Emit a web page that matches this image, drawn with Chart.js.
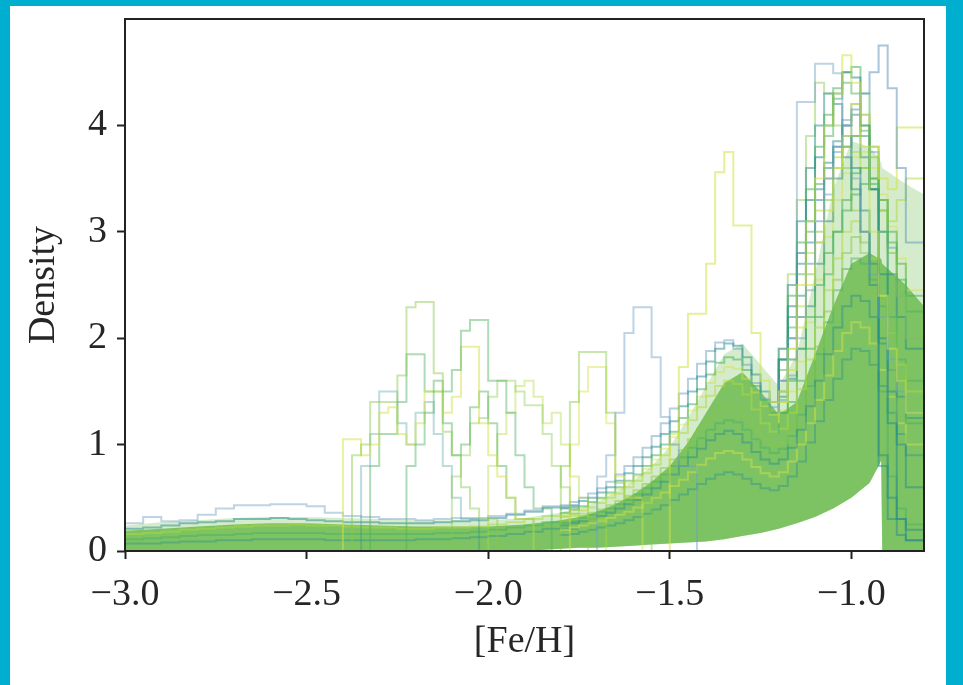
<!DOCTYPE html>
<html>
<head>
<meta charset="utf-8">
<script src="https://cdn.jsdelivr.net/npm/chart.js@4.4.1/dist/chart.umd.min.js"></script>
<style>
  html, body { margin: 0; padding: 0; }
  body { width: 963px; height: 685px; background: #00aed0; position: relative; overflow: hidden; }
  #panel { position: absolute; left: 10px; top: 6px; width: 936px; height: 679px; background: #fff; }
  #mdf { display: block; }
</style>
</head>
<body>
<div id="panel"><canvas id="mdf" width="936" height="679"></canvas></div>
<script>
// metallicity distribution functions, one step histogram per system
const X_MIN = -3.0;
const X_MAX = -0.8;
const Y_MAX = 5;
const BIN = 0.025;
const WIDE_BIN = 0.05;
const xTicks = [-3.0, -2.5, -2.0, -1.5, -1.0];
const yTicks = [0, 1, 2, 3, 4];

// envelope of the dense bundle of histograms
const envX = [-3.0, -2.9, -2.8, -2.7, -2.6, -2.5, -2.4, -2.3, -2.2, -2.1, -2.0, -1.9, -1.8, -1.75, -1.7, -1.65, -1.6, -1.55,
  -1.5, -1.45, -1.4, -1.35, -1.3, -1.25, -1.2, -1.15, -1.1, -1.05, -1.0, -0.95, -0.925, -0.918, -0.915, -0.85, -0.8];
const outerHigh = [0.24, 0.27, 0.29, 0.31, 0.32, 0.32, 0.31, 0.30, 0.29, 0.29, 0.29, 0.31, 0.36, 0.40, 0.46, 0.55, 0.66, 0.80,
  0.98, 1.25, 1.55, 1.85, 1.95, 1.75, 1.55, 1.85, 2.60, 3.40, 3.85, 3.80, 3.70, 3.65, 3.60, 3.45, 3.35];
const coreHigh = [0.19, 0.21, 0.23, 0.25, 0.26, 0.26, 0.25, 0.24, 0.23, 0.23, 0.23, 0.25, 0.29, 0.32, 0.37, 0.44, 0.53, 0.65,
  0.80, 1.02, 1.30, 1.58, 1.68, 1.50, 1.28, 1.40, 1.85, 2.30, 2.70, 2.80, 2.75, 2.75, 2.70, 2.50, 2.30];
const coreLow = [0, 0, 0, 0, 0, 0, 0, 0, 0, 0, 0, 0, 0.02, 0.03, 0.03, 0.04, 0.05, 0.06,
  0.07, 0.08, 0.09, 0.11, 0.14, 0.17, 0.21, 0.26, 0.32, 0.40, 0.50, 0.64, 0.80, 0.85, 0, 0, 0];

// low-metallicity tails, 0.05 dex bins from -3.0
const tail1 = [0.25, 0.26, 0.32, 0.28, 0.29, 0.34, 0.40, 0.43, 0.43, 0.44, 0.44, 0.42, 0.36, 0.33, 0.32, 0.30, 0.30, 0.29, 0.30, 0.31, 0.31, 0.33, 0.35, 0.38, 0.42];
const tail2 = [0.20, 0.21, 0.22, 0.24, 0.26, 0.27, 0.28, 0.30, 0.30, 0.31, 0.30, 0.29, 0.28, 0.27, 0.27, 0.26, 0.26, 0.26, 0.27, 0.28, 0.29, 0.31, 0.34, 0.37, 0.41];
const tail3 = [0.15, 0.16, 0.17, 0.18, 0.20, 0.21, 0.22, 0.23, 0.24, 0.24, 0.25, 0.24, 0.24, 0.23, 0.22, 0.22, 0.21, 0.21, 0.22, 0.22, 0.23, 0.25, 0.27, 0.30, 0.33];
const tail4 = [0.10, 0.11, 0.12, 0.13, 0.14, 0.15, 0.15, 0.16, 0.17, 0.17, 0.17, 0.17, 0.16, 0.16, 0.16, 0.16, 0.16, 0.16, 0.17, 0.17, 0.18, 0.20, 0.22, 0.24, 0.27];
const tail5 = [0.06, 0.07, 0.07, 0.08, 0.09, 0.09, 0.10, 0.10, 0.11, 0.11, 0.11, 0.11, 0.10, 0.10, 0.10, 0.10, 0.10, 0.11, 0.11, 0.12, 0.13, 0.14, 0.16, 0.18, 0.21];

// bulk histograms from -1.8 to -0.8
const bulk1 = [0.38, 0.40, 0.43, 0.47, 0.50, 0.55, 0.60, 0.66, 0.73, 0.80, 0.88, 0.98, 1.10, 1.22, 1.36, 1.50, 1.64, 1.78, 1.90, 1.95,
  1.93, 1.82, 1.66, 1.50, 1.40, 1.45, 1.62, 1.90, 2.30, 2.70, 3.10, 3.50, 3.80, 3.90, 3.70, 3.40, 3.00, 2.60, 2.20, 1.90];
const bulk2 = [0.30, 0.32, 0.35, 0.38, 0.41, 0.45, 0.50, 0.54, 0.60, 0.66, 0.73, 0.81, 0.90, 1.00, 1.11, 1.23, 1.35, 1.46, 1.55, 1.60,
  1.57, 1.47, 1.33, 1.20, 1.12, 1.15, 1.30, 1.52, 1.80, 2.10, 2.45, 2.75, 3.00, 3.10, 3.00, 2.75, 2.40, 2.05, 1.75, 1.50];
const bulk3 = [0.22, 0.24, 0.26, 0.28, 0.30, 0.33, 0.36, 0.40, 0.44, 0.48, 0.53, 0.59, 0.65, 0.72, 0.80, 0.88, 0.96, 1.04, 1.10, 1.13,
  1.10, 1.02, 0.93, 0.86, 0.82, 0.86, 0.97, 1.14, 1.36, 1.60, 1.85, 2.10, 2.30, 2.40, 2.35, 2.20, 1.95, 1.70, 1.45, 1.25];
const bulk4 = [0.34, 0.36, 0.39, 0.42, 0.46, 0.50, 0.55, 0.60, 0.66, 0.72, 0.80, 0.90, 1.00, 1.12, 1.25, 1.38, 1.52, 1.66, 1.77, 1.82,
  1.80, 1.70, 1.55, 1.42, 1.30, 1.30, 1.40, 1.60, 1.90, 2.20, 2.60, 3.00, 3.30, 3.55, 3.60, 3.45, 3.20, 2.90, 2.55, 2.25];
const bulk5 = [0.18, 0.20, 0.22, 0.24, 0.26, 0.28, 0.31, 0.34, 0.37, 0.41, 0.45, 0.50, 0.55, 0.61, 0.67, 0.74, 0.81, 0.87, 0.92, 0.94,
  0.92, 0.86, 0.79, 0.73, 0.70, 0.74, 0.84, 1.00, 1.20, 1.42, 1.65, 1.88, 2.05, 2.15, 2.10, 1.95, 1.70, 1.45, 1.20, 1.00];
const bulk6 = [0.40, 0.43, 0.46, 0.50, 0.54, 0.59, 0.65, 0.72, 0.80, 0.88, 0.97, 1.08, 1.20, 1.34, 1.48, 1.62, 1.76, 1.88, 1.96, 1.98,
  1.90, 1.75, 1.58, 1.43, 1.35, 1.42, 1.65, 2.00, 2.45, 2.90, 3.35, 3.75, 4.05, 4.20, 4.10, 3.75, 3.30, 2.85, 2.40, 2.00];
const bulk7 = [0.26, 0.28, 0.30, 0.33, 0.36, 0.39, 0.43, 0.47, 0.52, 0.57, 0.63, 0.70, 0.78, 0.86, 0.95, 1.05, 1.15, 1.25, 1.32, 1.36,
  1.34, 1.26, 1.15, 1.05, 0.98, 1.02, 1.15, 1.35, 1.62, 1.92, 2.25, 2.55, 2.80, 2.95, 2.90, 2.70, 2.35, 2.00, 1.65, 1.40];
const bulk8 = [0.14, 0.15, 0.16, 0.18, 0.20, 0.22, 0.24, 0.26, 0.29, 0.32, 0.35, 0.39, 0.43, 0.48, 0.53, 0.58, 0.63, 0.68, 0.72, 0.74,
  0.72, 0.68, 0.63, 0.59, 0.57, 0.61, 0.70, 0.84, 1.02, 1.22, 1.42, 1.62, 1.80, 1.90, 1.88, 1.75, 1.55, 1.30, 1.10, 0.90];
const bulk9 = [0.33, 0.35, 0.38, 0.41, 0.45, 0.49, 0.53, 0.58, 0.64, 0.70, 0.77, 0.86, 0.96, 1.07, 1.19, 1.32, 1.45, 1.58, 1.68, 1.73,
  1.71, 1.62, 1.49, 1.36, 1.28, 1.32, 1.50, 1.78, 2.15, 2.55, 2.95, 3.30, 3.55, 3.70, 3.75, 3.60, 3.35, 3.05, 2.75, 2.45];
const bulk10 = [0.24, 0.26, 0.28, 0.31, 0.34, 0.37, 0.40, 0.44, 0.48, 0.53, 0.59, 0.65, 0.72, 0.80, 0.88, 0.97, 1.06, 1.14, 1.20, 1.23,
  1.21, 1.14, 1.05, 0.97, 0.92, 0.96, 1.08, 1.28, 1.55, 1.85, 2.15, 2.45, 2.65, 2.75, 2.70, 2.55, 2.30, 2.05, 1.80, 1.60];

// metal-rich peak histograms from -1.2 to -0.8
const peak1 = [1.40, 1.60, 2.00, 4.22, 4.22, 4.58, 4.58, 4.49, 4.00, 3.50, 3.00, 2.60, 2.20, 1.80, 1.50, 1.30];
const peak2 = [1.30, 1.50, 1.80, 2.20, 2.70, 3.10, 3.50, 3.80, 4.00, 4.15, 4.30, 4.50, 4.75, 4.35, 3.60, 2.90];
const peak3 = [1.40, 1.80, 2.30, 2.80, 3.30, 3.70, 4.00, 4.30, 4.50, 4.45, 4.00, 3.40, 2.60, 1.20, 0.30, 0.10];
const peak4 = [1.20, 1.40, 1.70, 2.10, 2.50, 2.90, 3.20, 3.60, 3.90, 4.20, 4.10, 3.80, 3.50, 3.40, 3.98, 3.98];
const peak5 = [1.40, 1.80, 2.40, 2.90, 3.40, 3.80, 4.10, 4.35, 4.50, 4.55, 4.30, 3.80, 3.00, 2.20, 1.60, 1.20];
const peak6 = [1.40, 1.90, 2.50, 3.10, 3.60, 4.00, 4.30, 4.20, 3.90, 3.60, 3.20, 2.70, 0.80, 0.30, 0.15, 0.10];
const peak7 = [1.20, 1.40, 1.80, 2.20, 2.60, 3.00, 3.30, 3.60, 3.80, 3.90, 4.00, 3.70, 3.30, 2.80, 2.40, 2.00];
const peak8 = [1.40, 1.80, 2.20, 2.70, 3.10, 3.40, 3.65, 3.80, 3.70, 3.40, 3.00, 2.50, 2.00, 1.50, 1.00, 0.60];
const peak9 = [1.10, 1.30, 1.60, 1.90, 2.20, 2.50, 2.80, 3.00, 3.20, 3.35, 3.45, 3.50, 3.30, 3.00, 2.70, 2.40];
const peak10 = [1.30, 1.60, 2.00, 2.40, 2.90, 3.30, 3.60, 3.85, 4.00, 4.10, 3.90, 3.40, 0.90, 0.50, 0.30, 0.20];
const peak11 = [1.40, 1.90, 2.60, 3.30, 3.90, 4.40, 4.30, 4.00, 3.60, 3.20, 2.80, 2.40, 2.00, 1.70, 1.40, 1.20];
const peak12 = [1.30, 1.50, 1.90, 2.30, 2.80, 3.20, 3.50, 3.70, 3.80, 3.75, 3.60, 3.40, 3.20, 3.10, 3.30, 3.50];
const peak13 = [1.35, 1.70, 2.10, 2.60, 3.00, 3.45, 3.90, 4.25, 4.40, 4.30, 3.95, 3.50, 1.50, 0.70, 0.40, 0.25];

// narrow, metal-poor systems (start edge + counts)
const poorA = { start: -2.375, vals: [0.6, 0.9, 1.0, 1.4, 1.4, 1.4, 1.65, 2.29, 2.34, 2.34, 1.67, 1.12, 0.9, 0.6, 0.4, 0.3] };
const poorB = { start: -2.225, vals: [0.5, 0.8, 1.0, 1.3, 1.6, 1.5, 1.7, 2.07, 2.17, 2.17, 1.6, 1.6, 1.3, 0.9, 0.6, 0.4] };
const poorC = { start: -2.4, vals: [0.75, 1.05, 1.05, 0.9, 1.0, 1.3, 1.35, 1.1, 1.0, 1.2, 1.5, 1.5, 1.3, 1.45, 1.92, 1.92, 1.2, 0.9, 0.7, 0.5, 0.3] };
const poorD = { start: -2.325, vals: [0.4, 0.8, 1.1, 1.1, 1.4, 1.85, 1.85, 1.5, 1.5, 1.2, 0.9, 1.0, 1.35, 1.5, 1.2, 0.8, 0.5, 0.3] };
const poorE = { start: -2.1, vals: [0.4, 0.7, 0.9, 1.2, 1.25, 1.45, 1.6, 1.6, 1.5, 1.37, 1.37, 1.1, 0.8, 0.6, 0.35] };
const poorF = { start: -2.35, vals: [0.5, 0.8, 1.1, 1.5, 1.5, 1.2, 1.0, 1.3, 1.4, 1.1, 0.8, 0.5, 0.3] };
const poorG = { start: -2.0, vals: [0.5, 0.8, 1.1, 1.3, 1.55, 1.6, 1.45, 1.2, 1.3, 1.0, 0.7, 0.5, 0.3] };
const midA = { start: -1.8, vals: [0.45, 0.8, 1.4, 1.87, 1.87, 1.87, 1.3, 0.64, 0.5, 0.45] };
const midB = { start: -1.775, vals: [0.6, 1.0, 1.5, 1.73, 1.73, 1.2, 0.7, 0.5] };
const midC = { start: -1.7, vals: [0.5, 0.7, 0.9, 1.3, 2.05, 2.29, 2.29, 1.82, 1.26, 1.0, 0.8] };
const midD = { start: -1.5, vals: [0.9, 1.1, 1.73, 2.23, 2.23, 2.7, 3.56, 3.75, 3.06, 3.06, 2.05, 1.6, 1.4, 1.5, 1.9, 2.5,
  3.1, 3.5, 4.0, 4.3, 4.66, 4.4, 3.8, 3.0, 2.4, 1.9, 1.6, 1.3] };

const TEAL = 'rgba(38,140,140,';
const BLUE = 'rgba(110,160,195,';
const GREEN = 'rgba(75,178,95,';
const LIME = 'rgba(135,200,70,';
const YGREEN = 'rgba(175,218,55,';
const YELLOW = 'rgba(212,226,70,';

function stepPoints(start, width, vals, closed) {
  var pts = [];
  if (closed) pts.push({ x: start, y: 0 });
  vals.forEach(function (v, i) { pts.push({ x: start + i * width, y: v }); });
  var end = start + vals.length * width;
  pts.push({ x: end, y: vals[vals.length - 1] });
  if (closed) pts.push({ x: end, y: 0 });
  return pts;
}

function histLine(pts, color, alpha, order) {
  return {
    data: pts,
    borderColor: color + alpha + ')',
    borderWidth: 2,
    stepped: 'after',
    pointRadius: 0,
    fill: false,
    order: order
  };
}

function envelope(vals, fillColor, target, order) {
  return {
    data: envX.map(function (x, i) { return { x: x, y: vals[i] }; }),
    borderColor: 'rgba(0,0,0,0)',
    borderWidth: 0,
    pointRadius: 0,
    tension: 0,
    backgroundColor: fillColor,
    fill: target === null ? false : { target: target },
    order: order
  };
}

var datasets = [
  envelope(outerHigh, 'rgba(122,196,94,0.32)', 2, 12),
  envelope(coreHigh, 'rgba(110,188,82,0.85)', 2, 11),
  envelope(coreLow, 'rgba(0,0,0,0)', null, 10)
];

[[tail1, BLUE, 0.45], [tail2, TEAL, 0.5], [tail3, YGREEN, 0.5], [tail4, GREEN, 0.5], [tail5, TEAL, 0.4]].forEach(function (t) {
  datasets.push(histLine(stepPoints(X_MIN, WIDE_BIN, t[0], false), t[1], t[2], 6));
});

[[bulk1, TEAL, 0.5], [bulk2, YGREEN, 0.5], [bulk3, TEAL, 0.45], [bulk4, GREEN, 0.55], [bulk5, YELLOW, 0.5],
 [bulk6, BLUE, 0.5], [bulk7, LIME, 0.5], [bulk8, TEAL, 0.4], [bulk9, YELLOW, 0.45], [bulk10, GREEN, 0.5]].forEach(function (b) {
  datasets.push(histLine(stepPoints(-1.8, BIN, b[0], false), b[1], b[2], 5));
});

[[peak1, BLUE, 0.45], [peak2, BLUE, 0.6], [peak3, TEAL, 0.55], [peak4, YELLOW, 0.6], [peak5, GREEN, 0.55],
 [peak6, TEAL, 0.5], [peak7, LIME, 0.55], [peak8, TEAL, 0.5], [peak9, GREEN, 0.55], [peak10, TEAL, 0.5],
 [peak11, LIME, 0.45], [peak12, YGREEN, 0.5], [peak13, GREEN, 0.5]].forEach(function (p) {
  datasets.push(histLine(stepPoints(-1.2, BIN, p[0], false), p[1], p[2], 3));
});

[[poorA, LIME, 0.45], [poorB, GREEN, 0.45], [poorC, YELLOW, 0.5], [poorD, GREEN, 0.45], [poorE, LIME, 0.4],
 [poorF, TEAL, 0.3], [poorG, YGREEN, 0.4], [midA, LIME, 0.45], [midB, YELLOW, 0.45], [midC, BLUE, 0.45],
 [midD, YELLOW, 0.55]].forEach(function (h) {
  datasets.push(histLine(stepPoints(h[0].start, BIN, h[0].vals, true), h[1], h[2], 1));
});

// matplotlib-style frame drawn over the histograms
const frame = {
  id: 'frame',
  afterDatasetsDraw: function (chart) {
    var a = chart.chartArea, c = chart.ctx;
    c.save();
    c.strokeStyle = '#222';
    c.lineWidth = 2;
    c.strokeRect(a.left, a.top, a.right - a.left, a.bottom - a.top);
    c.restore();
  }
};

const FONT = { family: '"Liberation Serif", "Times New Roman", serif', size: 38 };
const INK = '#262626';

new Chart(document.getElementById('mdf'), {
  type: 'line',
  data: { datasets: datasets },
  options: {
    responsive: false,
    animation: false,
    events: [],
    layout: { padding: { top: 13, right: 22, left: 0, bottom: 0 } },
    plugins: { legend: { display: false }, tooltip: { enabled: false } },
    scales: {
      x: {
        type: 'linear',
        min: X_MIN,
        max: X_MAX,
        afterBuildTicks: function (s) { s.ticks = xTicks.map(function (v) { return { value: v }; }); },
        afterFit: function (s) { s.height = 134; s.paddingLeft = 0; s.paddingRight = 0; },
        grid: { display: true, drawOnChartArea: false, drawTicks: true, tickLength: 8, tickWidth: 2, tickColor: '#222' },
        border: { display: false },
        ticks: {
          font: FONT, color: INK, padding: 13, maxRotation: 0, autoSkip: false,
          callback: function (v) { return v.toFixed(1).replace('-', '\u2212'); }
        },
        title: { display: true, text: '[Fe/H]', font: FONT, color: INK, padding: { top: 0, bottom: 20 } }
      },
      y: {
        min: 0,
        max: Y_MAX,
        afterBuildTicks: function (s) { s.ticks = yTicks.map(function (v) { return { value: v }; }); },
        afterFit: function (s) { s.width = 115; s.paddingTop = 0; s.paddingBottom = 0; },
        grid: { display: true, drawOnChartArea: false, drawTicks: true, tickLength: 8, tickWidth: 2, tickColor: '#222' },
        border: { display: false },
        ticks: { font: FONT, color: INK, padding: 10, callback: function (v) { return String(v); } },
        title: { display: true, text: 'Density', font: FONT, color: INK, padding: { top: 11, bottom: 0 } }
      }
    }
  },
  plugins: [frame]
});
</script>
</body>
</html>
